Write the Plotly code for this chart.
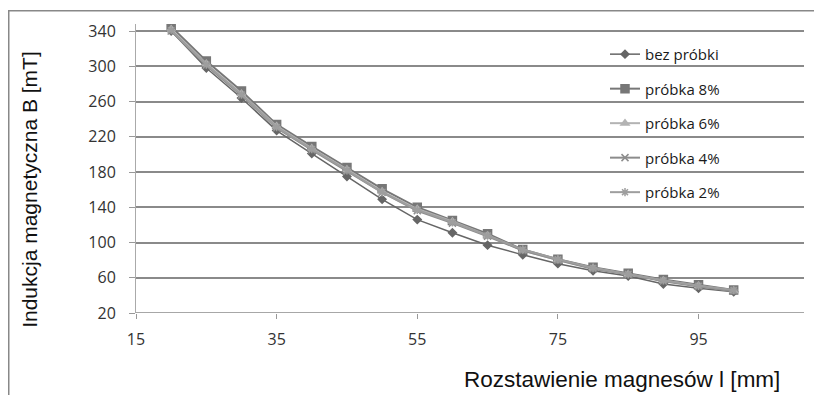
import plotly.graph_objects as go

x_mm = [20, 25, 30, 35, 40, 45, 50, 55, 60, 65, 70, 75, 80, 85, 90, 95, 100]
bez_probki = [340, 298, 264, 227, 201, 175, 149, 126, 111, 97, 86, 76, 68, 62, 53, 48, 44]
probka_8 = [345, 306, 272, 234, 209, 185, 161, 140, 125, 110, 92, 81, 72, 65, 58, 52, 46]
probka_6 = [342, 303, 269, 232, 207, 183, 158, 138, 124, 108, 91, 80, 71, 64, 57, 51, 45]
probka_4 = [340, 301, 267, 230, 205, 181, 157, 136, 122, 107, 91, 80, 70, 64, 56, 50, 45]
probka_2 = [341, 302, 268, 231, 206, 182, 157, 137, 123, 108, 92, 81, 71, 64, 57, 51, 46]

names = ["bez próbki", "próbka 8%", "próbka 6%", "próbka 4%", "próbka 2%"]
series = [bez_probki, probka_8, probka_6, probka_4, probka_2]
colors = ["#666666", "#777777", "#b3b3b3", "#8c8c8c", "#9e9e9e"]
symbols = ["diamond", "square", "triangle-up", "x-thin-open", "asterisk-open"]
msizes = [6, 8, 7, 7, 7]
lwidths = [1.5, 2, 2, 2, 2]

fig = go.Figure()
for i, (n, s) in enumerate(zip(names, series)):
    fig.add_trace(go.Scatter(
        x=x_mm, y=s, name=n, mode="lines+markers",
        line=dict(color=colors[i], width=lwidths[i]),
        marker=dict(symbol=symbols[i], size=msizes[i], color=colors[i],
                    line=dict(color=colors[i], width=1.5)),
        legendgroup=str(i),
    ))

# the page body adds an 8px offset; figure coordinates below are page - 8
W, H = 814, 387
L, R, T, B = 128, 18, 14, 82
pw, ph = W - L - R, H - T - B
y0px = T + ph  # pixel row of the plot bottom

fig.update_layout(
    width=W, height=H,
    margin=dict(l=L, r=R, t=T, b=B),
    paper_bgcolor="white", plot_bgcolor="white",
    font=dict(family="Open Sans, Liberation Sans, sans-serif", color="#222"),
    showlegend=True,
    legend=dict(
        x=(597 - L) / pw, y=(y0px - 28) / ph, xanchor="left", yanchor="top",
        bgcolor="rgba(0,0,0,0)", font=dict(size=15, color="#1a1a1a"),
        tracegroupgap=12, itemwidth=30,
    ),
    xaxis=dict(
        range=[15, 110], tick0=15, dtick=20, showgrid=False,
        zeroline=False, showline=False,
        ticks="outside", ticklen=5, tickcolor="#999", tickwidth=1,
        tickfont=dict(size=16, color="#333"), ticklabelstandoff=7,
    ),
    yaxis=dict(
        range=[20, 348], tick0=20, dtick=40, showgrid=True,
        gridcolor="#8a8a8a", gridwidth=1.5,
        zeroline=False, showline=True, linecolor="#aaa", linewidth=1,
        ticks="outside", ticklen=6, tickcolor="#999", tickwidth=1,
        tickfont=dict(size=16, color="#333"), ticklabelstandoff=10,
    ),
    shapes=[dict(type="rect", xref="paper", yref="paper",
                 x0=(0.75 - L) / pw, x1=(840 - L) / pw,
                 y0=(y0px - 420) / ph, y1=(y0px - 0.75) / ph,
                 line=dict(color="#888", width=1.5), fillcolor="rgba(0,0,0,0)",
                 layer="below")],
    annotations=[
        dict(text="Indukcja magnetyczna B [mT]", xref="paper", yref="paper",
             x=(22 - L) / pw, y=(y0px - 181) / ph, textangle=-90, showarrow=False,
             font=dict(family="Liberation Sans, Arial, sans-serif", size=21, color="#111"),
             xanchor="center", yanchor="middle"),
        dict(text="Rozstawienie magnesów l [mm]", xref="paper", yref="paper",
             x=(614 - L) / pw, y=(y0px - 372) / ph, showarrow=False,
             font=dict(family="Liberation Sans, Arial, sans-serif", size=22.5, color="#111"),
             xanchor="center", yanchor="middle"),
    ],
)
fig.add_hline(y=20, line=dict(color="#8a8a8a", width=1.5), layer="below")

fig.write_html("out.html")
